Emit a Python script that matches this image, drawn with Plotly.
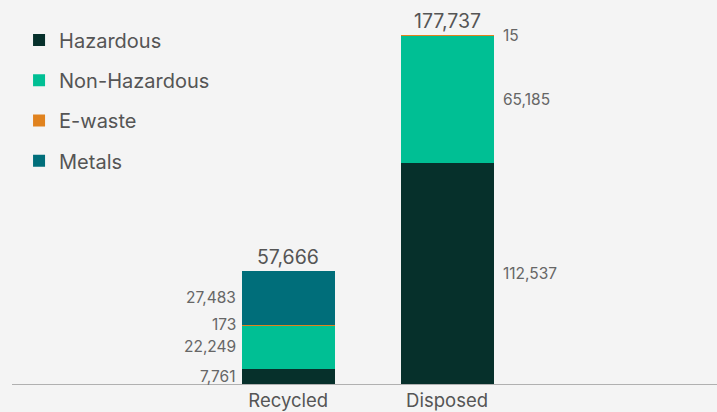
import plotly.graph_objects as go

categories = ["Recycled", "Disposed"]
hazardous = [7761, 112537]
non_hazardous = [22249, 65185]
e_waste = [173, 15]
metals = [27483, 0]

series = [
    ("Hazardous", hazardous, "#06302b"),
    ("Non-Hazardous", non_hazardous, "#00bf94"),
    ("E-waste", e_waste, "#e0821e"),
    ("Metals", metals, "#006e7a"),
]

FONT = "Inter, Open Sans, sans-serif"
BAR_W = 0.585

fig = go.Figure()
for name, vals, color in series:
    fig.add_trace(go.Bar(
        x=[0, 1], y=vals, name=name, marker_color=color,
        marker_line_width=0, width=BAR_W, legendgroup=name,
        hoverinfo="skip",
    ))

# segment labels: left of Recycled bar, right of Disposed bar
annotations = []
base = [0, 0]
for name, vals, color in series:
    for i, v in enumerate(vals):
        if v > 0:
            mid = base[i] + v / 2
            left = i == 0
            annotations.append(dict(
                x=i - BAR_W / 2 if left else i + BAR_W / 2, y=mid,
                xref="x", yref="y", text=f"{v:,}", showarrow=False,
                xanchor="right" if left else "left", xshift=-4 if left else 7,
                font=dict(size=15.5, color="#666666", family=FONT),
            ))
        base[i] += v

totals = [sum(s[1][i] for s in series) for i in range(2)]
for i, t in enumerate(totals):
    annotations.append(dict(
        x=i, y=t, xref="x", yref="y", text=f"{t:,}", showarrow=False,
        yanchor="bottom", yshift=0,
        font=dict(size=19.5, color="#555555", family=FONT),
    ))

fig.update_layout(
    barmode="stack",
    width=717, height=412,
    margin=dict(l=12, r=0, t=10, b=28),
    paper_bgcolor="#f4f4f4", plot_bgcolor="#f4f4f4",
    font=dict(family=FONT, color="#555555"),
    annotations=annotations,
    showlegend=True,
    legend=dict(
        x=0.01, y=0.972, xanchor="left", yanchor="top",
        traceorder="grouped", tracegroupgap=11.3,
        font=dict(size=20, color="#555555", family=FONT),
        bgcolor="rgba(0,0,0,0)", itemwidth=30,
    ),
)
fig.update_xaxes(
    range=[-1.74, 2.70], tickvals=[0, 1], ticktext=categories,
    showline=True, linecolor="#b0b0b0", linewidth=1,
    showgrid=False, zeroline=False, ticks="", automargin=False,
    tickfont=dict(size=18.5, color="#555555", family=FONT),
)
fig.update_yaxes(range=[0, 190469], visible=False, showgrid=False)

fig.write_html(
    "out.html",
    config={"displayModeBar": False},
    post_script="document.body.style.margin='0';",
)
